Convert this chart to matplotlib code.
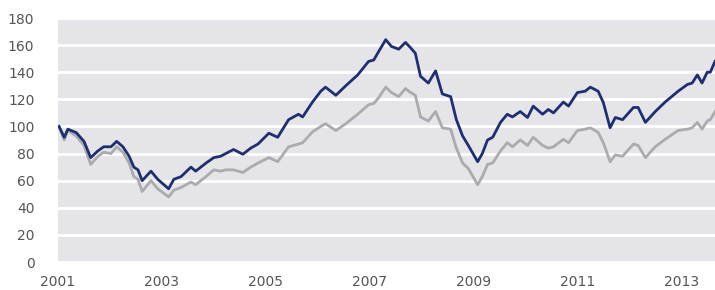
import matplotlib
matplotlib.use("Agg")
import matplotlib.pyplot as plt

# decimal-year positions of the readable vertices
years = [2001.02, 2001.12, 2001.19, 2001.35, 2001.50, 2001.63, 2001.77, 2001.88,
         2002.02, 2002.13, 2002.25, 2002.37, 2002.46, 2002.54, 2002.62, 2002.79,
         2002.92, 2003.13, 2003.23, 2003.37, 2003.56, 2003.65, 2003.85, 2004.00,
         2004.13, 2004.23, 2004.38, 2004.56, 2004.71, 2004.85, 2005.06, 2005.23,
         2005.44, 2005.63, 2005.71, 2005.90, 2006.06, 2006.15, 2006.35, 2006.54,
         2006.77, 2006.98, 2007.08, 2007.17, 2007.31, 2007.42, 2007.56, 2007.69,
         2007.79, 2007.88, 2007.98, 2008.13, 2008.27, 2008.40, 2008.56, 2008.67,
         2008.79, 2008.90, 2009.08, 2009.17, 2009.27, 2009.37, 2009.52, 2009.65,
         2009.75, 2009.90, 2010.04, 2010.15, 2010.33, 2010.44, 2010.54, 2010.73,
         2010.83, 2011.00, 2011.15, 2011.25, 2011.40, 2011.50, 2011.63, 2011.73,
         2011.87, 2012.08, 2012.17, 2012.31, 2012.50, 2012.69, 2012.94, 2013.12,
         2013.21, 2013.31, 2013.40, 2013.50, 2013.56, 2013.65]

dark_series = [100, 92, 98, 95.5, 89, 77, 82, 85,
               85, 89, 85, 78, 70, 68, 60, 67,
               61, 54, 61, 63, 70, 67, 73, 77,
               78, 80, 83, 79.5, 84, 87, 95, 92,
               105, 109, 107, 118, 126, 129, 123, 130,
               138, 148, 149, 155, 164, 159, 157, 162,
               158, 154, 137, 132, 141, 124, 122, 105,
               93, 86, 74, 80, 90, 92, 103, 109,
               107, 111, 106.6, 115, 109, 112.5, 110, 118,
               115, 125, 126, 129, 126, 117.6, 99, 106.6,
               105, 114, 114, 103, 111, 118, 126, 131,
               132, 138, 132, 140, 140, 148]

gray_series = [100, 90, 97, 93, 86, 72, 78, 81,
               80, 85, 81, 73, 63, 61, 52, 60,
               54, 48, 53, 55, 59, 57, 63, 68,
               67, 68, 68, 66, 70, 73, 77, 74,
               85, 87, 88, 96, 100, 102, 97, 102,
               109, 116, 117, 121, 129, 125, 122, 128,
               125, 123, 107, 104, 111, 99, 98, 84,
               73, 69, 57, 63, 72, 73, 82, 88,
               85, 90, 86, 92, 86, 84, 85, 90.5,
               88, 97, 98, 99, 95.6, 88, 74, 79,
               78, 87, 86, 77, 85, 90.5, 97, 98,
               99, 103, 98, 104, 105, 111]

y_ticks = [0, 20, 40, 60, 80, 100, 120, 140, 160, 180]
x_ticks = [2001, 2003, 2005, 2007, 2009, 2011, 2013]

fig = plt.figure(figsize=(7.15, 2.90), dpi=100)
ax = fig.add_axes([58 / 715, 1 - 262 / 290, 1 - 58 / 715, (262 - 18) / 290])
ax.set_facecolor("#e5e5e9")

ax.plot(years, gray_series, color="#a9abae", lw=2.0, zorder=3)
ax.plot(years, dark_series, color="#1f2f6e", lw=2.0, zorder=4)

ax.set_ylim(0, 180)
ax.set_xlim(2001.0, 2013.65)
ax.set_yticks(y_ticks)
ax.set_xticks(x_ticks)
ax.set_xticklabels([str(t) for t in x_ticks])
ax.grid(axis="y", color="white", lw=2.0, zorder=1)
ax.set_axisbelow(True)
for s in ax.spines.values():
    s.set_visible(False)
ax.tick_params(axis="both", length=0, labelsize=10, labelcolor="#555555")
ax.tick_params(axis="y", pad=17)
ax.tick_params(axis="x", pad=9)

fig.savefig("out.png", dpi=100)
